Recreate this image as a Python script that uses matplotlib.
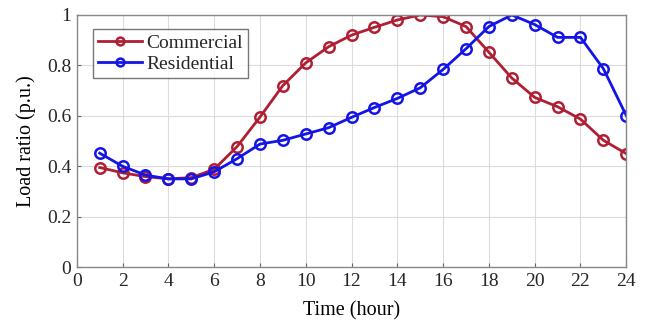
import matplotlib
matplotlib.use("Agg")
import matplotlib.pyplot as plt

hours = list(range(1, 25))
commercial = [0.395, 0.374, 0.359, 0.350, 0.355, 0.388, 0.478, 0.595, 0.720, 0.810,
              0.874, 0.920, 0.951, 0.980, 1.000, 0.993, 0.954, 0.852, 0.750, 0.673,
              0.636, 0.587, 0.503, 0.450]
residential = [0.452, 0.400, 0.365, 0.350, 0.350, 0.378, 0.430, 0.488, 0.503, 0.528,
               0.553, 0.594, 0.633, 0.669, 0.711, 0.784, 0.866, 0.954, 1.000, 0.962,
               0.911, 0.911, 0.787, 0.601]
xticks = list(range(0, 25, 2))
yticks = [0, 0.2, 0.4, 0.6, 0.8, 1.0]
ytick_labels = ["0", "0.2", "0.4", "0.6", "0.8", "1"]

plt.rcParams['font.family'] = ['Liberation Serif', 'DejaVu Serif']
plt.rcParams['text.color'] = '#262626'

fig = plt.figure(figsize=(6.51, 3.25), dpi=100)
ax = fig.add_axes([0.118, 0.178, 0.844, 0.776])

red = "#B01E34"
blue = "#1414E6"
ax.plot(hours, commercial, '-o', color=red, lw=2, ms=7.5, mfc='none', mew=1.8, label="Commercial")
ax.plot(hours, residential, '-o', color=blue, lw=2, ms=7.5, mfc='none', mew=1.8, label="Residential")

ax.set_xlim(0, 24)
ax.set_ylim(0, 1)
ax.set_xticks(xticks)
ax.set_yticks(yticks)
ax.set_yticklabels(ytick_labels)
ax.grid(True, color="#dcdcdc", lw=0.8)
ax.set_axisbelow(True)
for s in ax.spines.values():
    s.set_color("#888888")
    s.set_linewidth(1.0)
ax.tick_params(direction='in', length=3, color="#666666", labelcolor="#262626",
               labelsize=14, pad=4, top=False, right=False)
ax.set_xlabel("Time (hour)", fontsize=14.5, labelpad=8)
ax.set_ylabel("Load ratio (p.u.)", fontsize=14.5, labelpad=8)

leg = ax.legend(loc='upper left', bbox_to_anchor=(0.029, 0.944), fontsize=14, frameon=True,
                fancybox=False, edgecolor="#555555", borderpad=0.25, labelspacing=0.2,
                handlelength=2.3, handletextpad=0.2, borderaxespad=0.0, markerscale=0.75)
leg.get_frame().set_linewidth(1.0)

fig.savefig("out.png", dpi=100, facecolor="white")
